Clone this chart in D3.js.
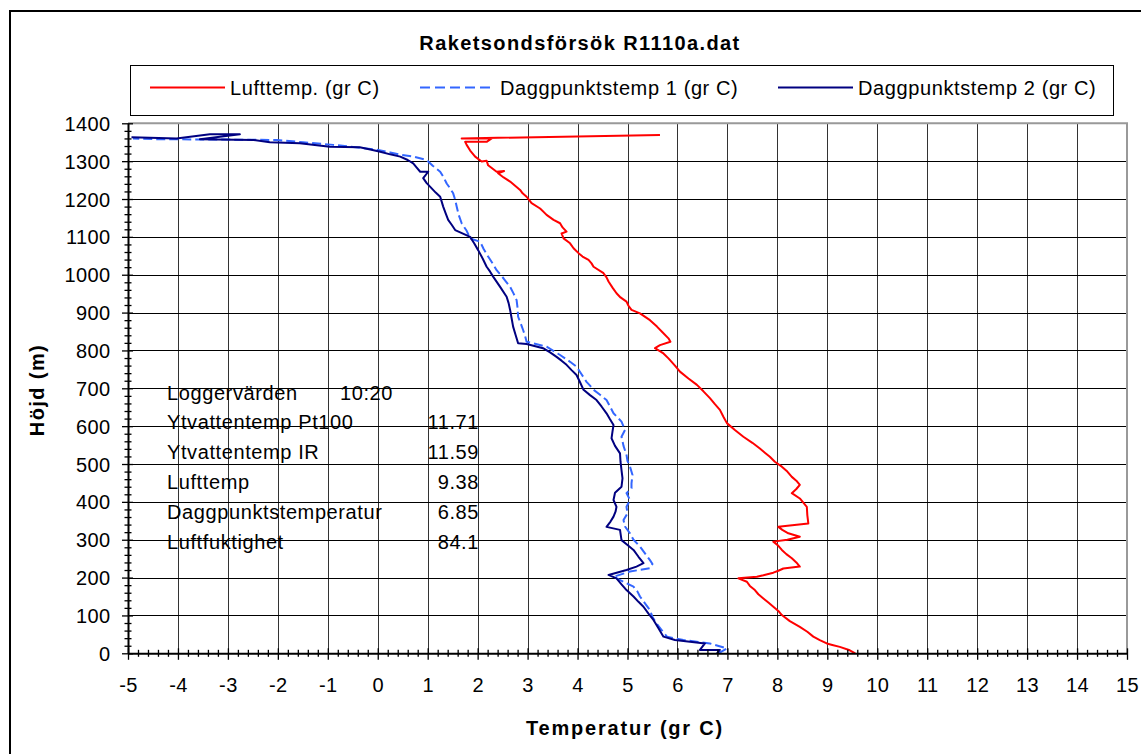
<!DOCTYPE html>
<html>
<head>
<meta charset="utf-8">
<script src="https://cdn.jsdelivr.net/npm/d3@7"></script>
<style>
  body { margin: 0; background: #fff; }
  svg { display: block; }
  text { font-family: "Liberation Sans", Arial, sans-serif; fill: #000; }
</style>
</head>
<body>
<svg id="chart" width="1141" height="754"></svg>
<script>
// ---- data: [height (m), temperature (gr C)] in measurement order ----
const chartTitle = "Raketsondsförsök R1110a.dat";
const xTitle = "Temperatur (gr C)";
const yTitle = "Höjd (m)";
const xTickValues = d3.range(-5, 16, 1);
const yTickValues = d3.range(0, 1401, 100);
const seriesNames = ["Lufttemp. (gr C)", "Daggpunktstemp 1 (gr C)", "Daggpunktstemp 2 (gr C)"];

const lufttemp = [
  [0, 9.56], [8, 9.45], [17, 9.25], [22, 9.1], [26, 8.99], [35, 8.85], [44, 8.72], [57, 8.6],
  [70, 8.45], [85, 8.25], [101, 8.09], [112, 8.02], [123, 7.92], [134, 7.82], [145, 7.72],
  [156, 7.62], [167, 7.55], [178, 7.45], [189, 7.39], [198, 7.22], [202, 7.59], [206, 7.72],
  [213, 7.92], [218, 8.02], [224, 8.12], [229, 8.45], [240, 8.38], [251, 8.29], [262, 8.18],
  [273, 8.09], [284, 8.02], [295, 7.92], [300, 8.2], [308, 8.45], [317, 8.22], [326, 8.1],
  [334, 8.02], [343, 8.62], [365, 8.6], [387, 8.59], [398, 8.52], [409, 8.45], [423, 8.29],
  [434, 8.38], [445, 8.45], [456, 8.38], [466, 8.29], [480, 8.2], [493, 8.09], [506, 7.95],
  [519, 7.85], [530, 7.75], [541, 7.65], [556, 7.5], [572, 7.32], [590, 7.15], [608, 6.99],
  [625, 6.92], [643, 6.85], [658, 6.75], [674, 6.65], [692, 6.52], [709, 6.39], [726, 6.22],
  [744, 6.05], [760, 5.95], [779, 5.82], [792, 5.72], [806, 5.55], [814, 5.65], [823, 5.86],
  [832, 5.82], [848, 5.7], [863, 5.59], [880, 5.45], [898, 5.25], [907, 5.08], [918, 5.02],
  [929, 4.98], [940, 4.86], [951, 4.78], [966, 4.7], [982, 4.62], [993, 4.58], [1004, 4.52],
  [1021, 4.32], [1030, 4.28], [1039, 4.22], [1048, 4.1], [1057, 4.02], [1070, 3.92],
  [1083, 3.85], [1096, 3.72], [1109, 3.68], [1114, 3.78], [1125, 3.7], [1136, 3.65],
  [1145, 3.52], [1158, 3.38], [1166, 3.32], [1175, 3.25], [1189, 3.08], [1206, 2.98],
  [1215, 2.9], [1224, 2.85], [1235, 2.75], [1246, 2.65], [1257, 2.52], [1268, 2.41],
  [1274, 2.53], [1272, 2.38], [1289, 2.21], [1301, 2.18], [1299, 2.08], [1312, 1.95],
  [1328, 1.85], [1343, 1.78], [1351, 1.75], [1351, 2.18], [1360, 2.28], [1360, 1.68],
  [1369, 5.65]
];

const daggpunkt1 = [
  [0, 6.82], [13, 6.99], [26, 6.65], [35, 6.12], [44, 5.79], [62, 5.68], [79, 5.58],
  [96, 5.5], [114, 5.45], [132, 5.35], [150, 5.25], [163, 5.2], [176, 5.12], [202, 4.72],
  [216, 5.05], [225, 5.45], [236, 5.5], [246, 5.45], [264, 5.35], [282, 5.25], [300, 5.12],
  [317, 5.05], [335, 4.95], [352, 4.92], [370, 5.0], [387, 4.98], [405, 5.05], [423, 4.98],
  [436, 5.08], [449, 5.08], [471, 5.1], [493, 5.05], [508, 5.0], [524, 4.98], [548, 4.92],
  [572, 4.88], [590, 4.95], [612, 4.88], [623, 4.8], [634, 4.72], [652, 4.65], [669, 4.58],
  [683, 4.45], [696, 4.32], [707, 4.25], [717, 4.18], [737, 4.08], [757, 3.98], [770, 3.85],
  [779, 3.75], [788, 3.65], [800, 3.5], [810, 3.38], [823, 2.98], [838, 2.95], [854, 2.91],
  [872, 2.86], [889, 2.81], [911, 2.8], [933, 2.78], [950, 2.72], [968, 2.65], [990, 2.52],
  [1012, 2.38], [1030, 2.3], [1048, 2.21], [1068, 2.12], [1087, 2.05], [1096, 1.85],
  [1116, 1.78], [1136, 1.68], [1158, 1.62], [1180, 1.58], [1198, 1.55], [1215, 1.51],
  [1228, 1.45], [1241, 1.38], [1257, 1.32], [1272, 1.25], [1288, 1.1], [1303, 0.98],
  [1312, 0.71], [1317, 0.45], [1323, 0.25], [1330, -0.02], [1337, -0.45], [1343, -0.89],
  [1350, -1.5], [1356, -2.02], [1357, -3.0], [1358, -4.4], [1360, -4.9]
];

const daggpunkt2 = [
  [0, 6.79], [9, 6.85], [9, 6.45], [26, 6.55], [35, 5.95], [44, 5.72], [66, 5.62], [88, 5.52],
  [105, 5.42], [123, 5.32], [136, 5.22], [150, 5.12], [167, 4.98], [182, 4.88], [198, 4.78],
  [207, 4.62], [220, 4.98], [229, 5.18], [238, 5.32], [255, 5.22], [273, 5.12], [286, 5.0],
  [299, 4.88], [326, 4.85], [334, 4.58], [348, 4.66], [361, 4.72], [374, 4.76], [387, 4.78],
  [405, 4.72], [424, 4.75], [440, 4.88], [462, 4.9], [484, 4.88], [506, 4.86], [528, 4.85],
  [548, 4.75], [568, 4.68], [586, 4.7], [603, 4.72], [618, 4.65], [634, 4.58], [652, 4.48],
  [669, 4.38], [682, 4.25], [696, 4.12], [716, 4.05], [735, 3.98], [748, 3.88], [762, 3.78],
  [773, 3.68], [783, 3.58], [795, 3.45], [806, 3.31], [817, 2.98], [819, 2.81], [841, 2.76],
  [863, 2.71], [885, 2.68], [907, 2.65], [925, 2.62], [942, 2.58], [968, 2.45], [995, 2.31],
  [1008, 2.25], [1021, 2.18], [1043, 2.1], [1065, 2.01], [1083, 1.93], [1100, 1.85],
  [1118, 1.55], [1132, 1.48], [1145, 1.41], [1162, 1.36], [1180, 1.31], [1193, 1.28],
  [1206, 1.25], [1217, 1.16], [1228, 1.08], [1242, 0.98], [1255, 0.91], [1272, 1.01],
  [1272, 0.85], [1283, 0.78], [1294, 0.71], [1303, 0.6], [1312, 0.45], [1318, 0.25],
  [1325, 0.05], [1331, -0.15], [1337, -0.36], [1338, -0.96], [1347, -1.56], [1350, -2.16],
  [1356, -2.49], [1358, -3.56], [1371, -2.76], [1371, -3.36], [1360, -4.03], [1363, -4.93]
];

const infoLabels = ["Loggervärden", "Ytvattentemp Pt100", "Ytvattentemp IR", "Lufttemp",
                    "Daggpunktstemperatur", "Luftfuktighet"];
const infoValues = ["10:20", "11.71", "11.59", "9.38", "6.85", "84.1"];

// ---- layout ----
const plot = { left: 128, right: 1127, top: 123.3, bottom: 653.3 };
const colors = ["#ff0000", "#3366ff", "#000080"];
const fontFamily = '"Liberation Sans", Arial, sans-serif';

const svg = d3.select("#chart");

// outer chart frame (runs off the bottom/right edge)
svg.append("rect").attr("x", 10).attr("y", 11).attr("width", 1160).attr("height", 780)
  .attr("fill", "#fff").attr("stroke", "#000").attr("stroke-width", 2);

const x = d3.scaleLinear().domain([-5, 15]).range([plot.left, plot.right]);
const y = d3.scaleLinear().domain([0, 1400]).range([plot.bottom, plot.top]);

// gridlines
const grid = svg.append("g");
grid.selectAll(".vg").data(xTickValues.slice(1, -1)).join("line")
  .attr("x1", d => Math.round(x(d)) + 0.5).attr("x2", d => Math.round(x(d)) + 0.5)
  .attr("y1", plot.top).attr("y2", plot.bottom)
  .attr("stroke", "#333").attr("stroke-width", 1);
grid.selectAll(".hg").data(yTickValues.slice(1, -1)).join("line")
  .attr("x1", plot.left).attr("x2", plot.right)
  .attr("y1", d => Math.round(y(d)) + 0.5).attr("y2", d => Math.round(y(d)) + 0.5)
  .attr("stroke", "#000").attr("stroke-width", 1);

// plot-area frame on top and right
svg.append("path")
  .attr("d", `M${plot.left},${plot.top}H${plot.right}V${plot.bottom}`)
  .attr("fill", "none").attr("stroke", "#999").attr("stroke-width", 2);

// series
const line = d3.line().x(d => x(d[1])).y(d => y(d[0]));
const seriesData = [lufttemp, daggpunkt1, daggpunkt2];
seriesData.forEach((s, i) => {
  svg.append("path").datum(s).attr("d", line)
    .attr("fill", "none").attr("stroke", colors[i]).attr("stroke-width", 2)
    .attr("stroke-linejoin", "round")
    .attr("stroke-dasharray", i === 1 ? "9,4" : null);
});

// axes with crossing tick marks
const plainNum = d => String(d);

const xAxis = svg.append("g").attr("transform", `translate(0,${plot.bottom})`)
  .call(d3.axisBottom(x).tickValues(d3.range(-5, 15.01, 0.2)).tickSize(0).tickFormat(""));
xAxis.select(".domain").attr("stroke", "#000").attr("stroke-width", 2);
xAxis.selectAll(".tick line").attr("y1", -3.5).attr("y2", 3.5).attr("stroke", "#000").attr("stroke-width", 1.3);
xAxis.selectAll(".tick").filter(d => Math.abs(d - Math.round(d)) < 1e-6)
  .select("line").attr("y1", -5).attr("y2", 6.5);

const xLabels = svg.append("g").attr("transform", `translate(0,${plot.bottom})`)
  .call(d3.axisBottom(x).tickValues(xTickValues).tickSize(0).tickPadding(0).tickFormat(plainNum));
xLabels.select(".domain").remove();
xLabels.selectAll("text").attr("y", 39).attr("dy", null)
  .style("font-size", "20px").style("letter-spacing", "0.4px")
  .style("font-family", fontFamily).attr("fill", "#000");

const yAxis = svg.append("g").attr("transform", `translate(${plot.left},0)`)
  .call(d3.axisLeft(y).tickValues(d3.range(0, 1400.01, 20)).tickSize(0).tickFormat(""));
yAxis.select(".domain").attr("stroke", "#000").attr("stroke-width", 2);
yAxis.selectAll(".tick line").attr("x1", -3.5).attr("x2", 3.5).attr("stroke", "#000").attr("stroke-width", 1.3);
yAxis.selectAll(".tick").filter(d => Math.abs(d % 100) < 1e-6)
  .select("line").attr("x1", -6).attr("x2", 5);

const yLabels = svg.append("g").attr("transform", `translate(${plot.left},0)`)
  .call(d3.axisLeft(y).tickValues(yTickValues).tickSize(0).tickPadding(0).tickFormat(plainNum));
yLabels.select(".domain").remove();
yLabels.selectAll("text").attr("x", -17.5).attr("dy", "0.35em")
  .style("font-size", "20px").style("letter-spacing", "0.4px")
  .style("font-family", fontFamily).attr("fill", "#000");

// titles
svg.append("text").attr("x", 580).attr("y", 50).attr("text-anchor", "middle")
  .style("font-size", "20px").style("font-weight", "bold").style("letter-spacing", "1.4px")
  .text(chartTitle);
svg.append("text").attr("x", 625).attr("y", 735).attr("text-anchor", "middle")
  .style("font-size", "20px").style("font-weight", "bold").style("letter-spacing", "1.8px")
  .text(xTitle);
svg.append("text").attr("transform", "translate(44,390) rotate(-90)").attr("text-anchor", "middle")
  .style("font-size", "20px").style("font-weight", "bold").style("letter-spacing", "1.4px")
  .text(yTitle);

// legend
svg.append("rect").attr("x", 130.5).attr("y", 65.5).attr("width", 983).attr("height", 50)
  .attr("fill", "#fff").attr("stroke", "#000").attr("stroke-width", 1);
const legendX = [150, 420, 778];
seriesNames.forEach((name, i) => {
  svg.append("line").attr("x1", legendX[i]).attr("x2", legendX[i] + 75)
    .attr("y1", 87.5).attr("y2", 87.5)
    .attr("stroke", colors[i]).attr("stroke-width", 2)
    .attr("stroke-dasharray", i === 1 ? "10,5" : null);
  svg.append("text").attr("x", legendX[i] + 80).attr("y", 94.5)
    .style("font-size", "20px").style("letter-spacing", "0.6px").text(name);
});

// logger readout text box
const info = svg.append("g");
infoLabels.forEach((lab, i) => {
  info.append("text").attr("x", 167).attr("y", 399.5 + i * 29.8)
    .style("font-size", "20px").style("letter-spacing", "0.6px").text(lab);
});
infoValues.forEach((v, i) => {
  if (i === 0) {
    info.append("text").attr("x", 340).attr("y", 399.5)
      .style("font-size", "20px").style("letter-spacing", "0.6px").text(v);
  } else {
    info.append("text").attr("x", 479).attr("y", 399.5 + i * 29.8).attr("text-anchor", "end")
      .style("font-size", "20px").style("letter-spacing", "0.6px").text(v);
  }
});
</script>
</body>
</html>
